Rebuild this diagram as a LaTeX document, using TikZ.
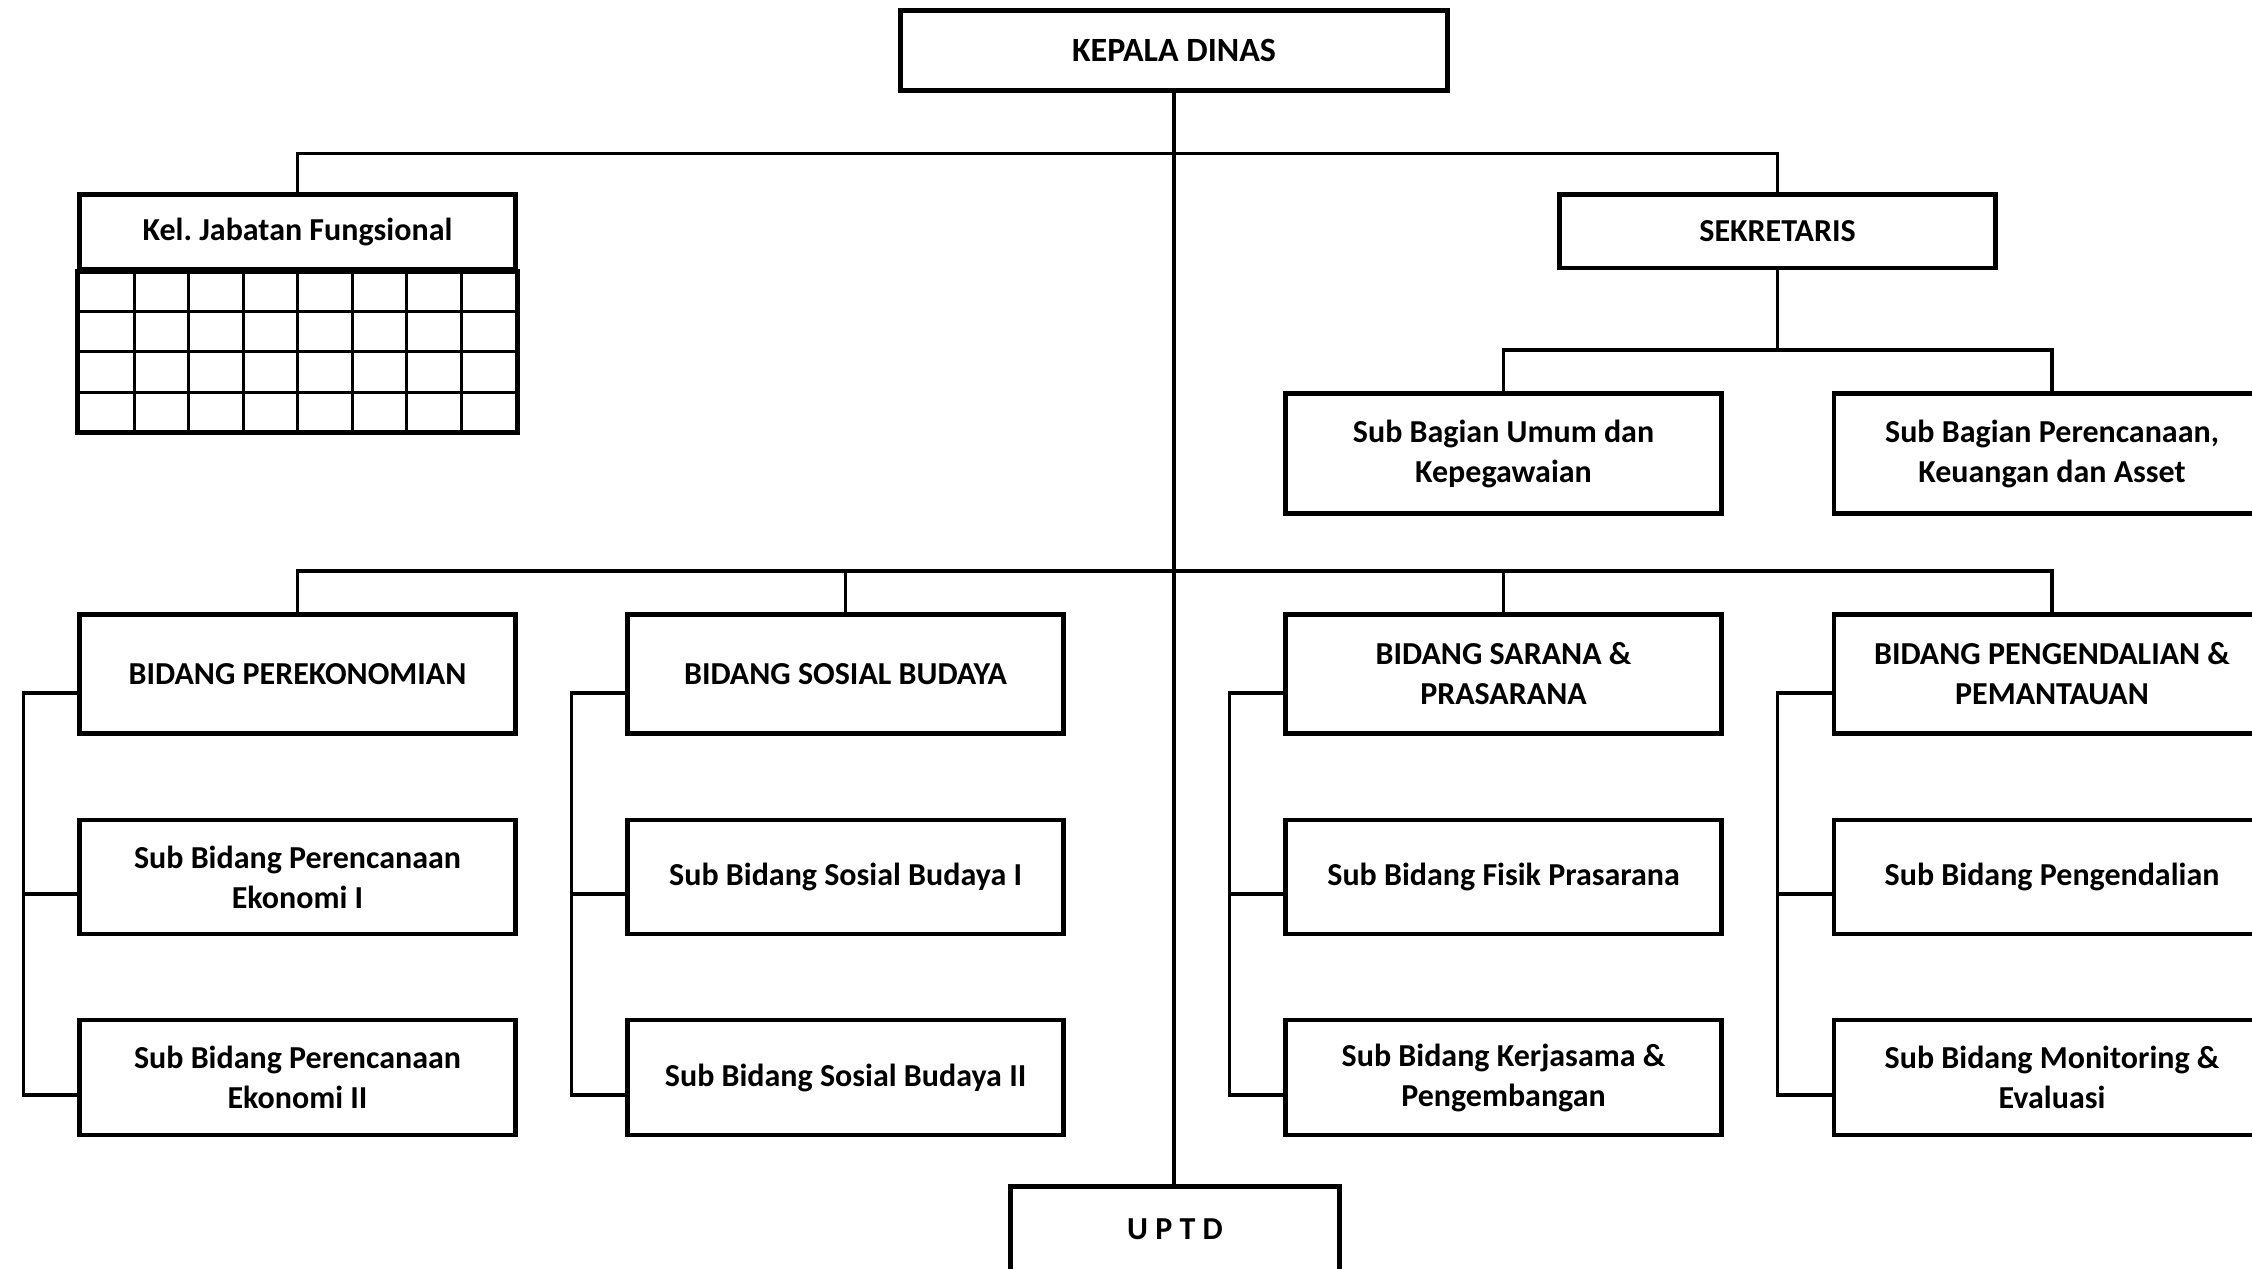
\documentclass[tikz,border=0pt]{standalone}
\usepackage{fontspec}
\setmainfont{Carlito}
\frenchspacing
\begin{document}
\begin{tikzpicture}[x=0.5pt,y=-0.5pt,
  box/.style={draw, line width=2.35pt, line join=miter, inner sep=0pt, align=center,
    font=\fontsize{16}{20}\selectfont\bfseries, minimum width=218pt},
  rowa/.style={box, minimum height=59.25pt},
  rowb/.style={box, minimum height=57pt},
  rowc/.style={box, minimum height=57.5pt},
  conn/.style={line width=1.6pt},
  gridthin/.style={line width=1.5pt},
  gridthick/.style={line width=2.5pt, line join=miter}]
\useasboundingbox (0,0) rectangle (2252,1268);
\clip (0,0) rectangle (2252,1268);

% top
\node[box, minimum width=273.5pt, minimum height=40pt, font=\fontsize{17}{20}\selectfont\bfseries] (kd) at (1174,50.5) {KEPALA DINAS};
\node[box, minimum height=37.5pt] (kjf) at (297.5,232) {Kel. Jabatan Fungsional};
\node[box, minimum height=36.75pt] (sek) at (1777.5,231.25) {SEKRETARIS};
\node[box, minimum height=60pt] (sb1) at (1503.5,453.5) {Sub Bagian Umum dan\\Kepegawaian};
\node[box, minimum height=60pt] (sb2) at (2052,453.5) {Sub Bagian Perencanaan,\\Keuangan dan Asset};

% grid under Kel. Jabatan Fungsional
\foreach \i in {1,...,7} \draw[gridthin] (79.5+\i*54.5,270.5) -- (79.5+\i*54.5,432.5);
\foreach \yy in {311,351.5,392} \draw[gridthin] (79.5,\yy) -- (515.5,\yy);
\draw[gridthick] (kjf.south west) rectangle (kjf.south east |- 0,432.5);

% bidang columns
\node[rowa] (p1) at (297.5,674) {BIDANG PEREKONOMIAN};
\node[rowa] (p2) at (845.5,674) {BIDANG SOSIAL BUDAYA};
\node[rowa] (p3) at (1503.5,674) {BIDANG SARANA \&\\PRASARANA};
\node[rowa] (p4) at (2052,674) {BIDANG PENGENDALIAN \&\\PEMANTAUAN};

\node[rowb] (q1) at (297.5,877) {Sub Bidang Perencanaan\\Ekonomi I};
\node[rowb] (q2) at (845.5,877) {Sub Bidang Sosial Budaya I};
\node[rowb] (q3) at (1503.5,877) {Sub Bidang Fisik Prasarana};
\node[rowb] (q4) at (2052,877) {Sub Bidang Pengendalian};

\node[rowc] (r1) at (297.5,1077.5) {Sub Bidang Perencanaan\\Ekonomi II};
\node[rowc] (r2) at (845.5,1077.5) {Sub Bidang Sosial Budaya II};
\node[rowc] (r3) at (1503.5,1077.5) {Sub Bidang Kerjasama \&\\Pengembangan};
\node[rowc] (r4) at (2052,1077.5) {Sub Bidang Monitoring \&\\Evaluasi};

\node[box, minimum width=164.25pt, minimum height=43pt] (uptd) at (1175,1229.5) {U P T D};

% buses
\coordinate (bus1) at (1174,153.5);
\coordinate (bus2) at (1777.5,350);
\coordinate (bus3) at (1174,571);

\draw[conn] (kd.south) -- (kd.south |- uptd.north);
\draw[conn] (kjf.north) |- (bus1) -| (sek.north);
\draw[conn] (sek.south) -- (bus2);
\draw[conn] (sb1.north) |- (bus2) -| (sb2.north);
\draw[conn] (p1.north) |- (bus3) -| (p4.north);
\draw[conn] (p2.north) |- (bus3);
\draw[conn] (p3.north) |- (bus3);

% side brackets
\foreach \c in {1,2,3,4}{
  \draw[conn] ([yshift=-9.5pt]p\c.west) -| ([xshift=-27pt,yshift=-8.75pt]r\c.west) -- ([yshift=-8.75pt]r\c.west);
  \draw[conn] ([yshift=-8.5pt]q\c.west) -- ++(-27pt,0);
}
\end{tikzpicture}
\end{document}
